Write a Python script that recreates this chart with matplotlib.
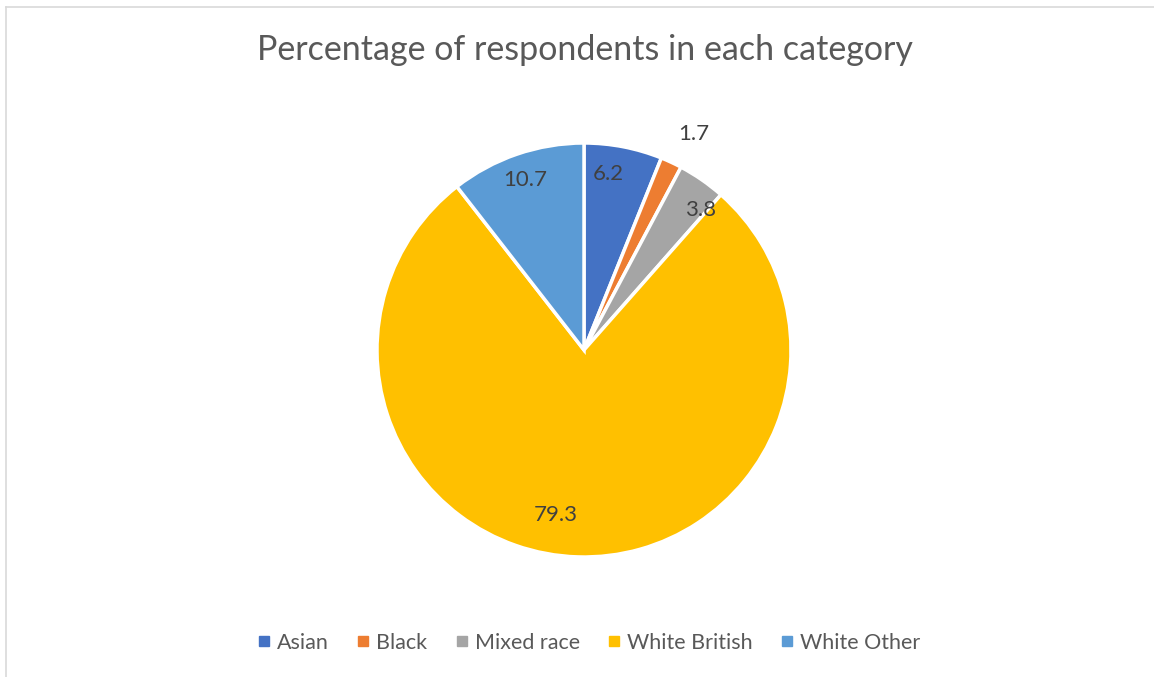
import numpy as np
import matplotlib
matplotlib.use('Agg')
import matplotlib.pyplot as plt
from matplotlib.lines import Line2D

# respondents by ethnic group (%)
categories = ['Asian', 'Black', 'Mixed race', 'White British', 'White Other']
values = [6.2, 1.7, 3.8, 79.3, 10.7]
colors = ['#4472C4', '#ED7D31', '#A5A5A5', '#FFC000', '#5B9BD5']

# label placement: radius as fraction of pie radius, angle nudge in degrees
label_radius = [0.86, 1.17, 0.88, 0.81, 0.87]
label_nudge = [-3, 2, 5, 8, 0]

plt.rcParams['font.family'] = ['Lato', 'DejaVu Sans']

W, H = 1154, 677
fig = plt.figure(figsize=(W / 100, H / 100), dpi=100)

# thin frame along the top and left edges
fig.add_artist(Line2D([6 / W, 6 / W], [0, 1 - 7 / H], transform=fig.transFigure,
                      color='#D9D9D9', lw=1.2))
fig.add_artist(Line2D([6 / W, 1], [1 - 7 / H, 1 - 7 / H], transform=fig.transFigure,
                      color='#D9D9D9', lw=1.2))

cx, cy, r = 584, 350, 207
ax = fig.add_axes([(cx - r) / W, (H - cy - r) / H, 2 * r / W, 2 * r / H])
wedges, _ = ax.pie(values, colors=colors, startangle=90, counterclock=False,
                   radius=1, wedgeprops=dict(edgecolor='white', linewidth=2.5))
ax.set_xlim(-1, 1)
ax.set_ylim(-1, 1)
ax.set_aspect('equal')
ax.axis('off')

for w, v, rr, nd in zip(wedges, values, label_radius, label_nudge):
    ang = np.deg2rad((w.theta1 + w.theta2) / 2 - nd)
    ax.text(rr * np.cos(ang), rr * np.sin(ang), f'{v:.1f}', ha='center', va='center',
            fontsize=16, color='#404040', clip_on=False)

fig.text(585 / W, 1 - 50 / H, 'Percentage of respondents in each category',
         ha='center', va='center', fontsize=24.5, color='#595959')

handles = [Line2D([], [], marker='s', linestyle='none', markersize=7,
                  markerfacecolor=c, markeredgecolor=c) for c in colors]
fig.legend(handles, categories, loc='center', bbox_to_anchor=(588 / W, 1 - 643 / H),
           ncol=5, frameon=False, fontsize=15.5, handletextpad=0.2, columnspacing=1.2,
           handlelength=0.8, labelcolor='#595959')

fig.savefig('out.png', dpi=100)
